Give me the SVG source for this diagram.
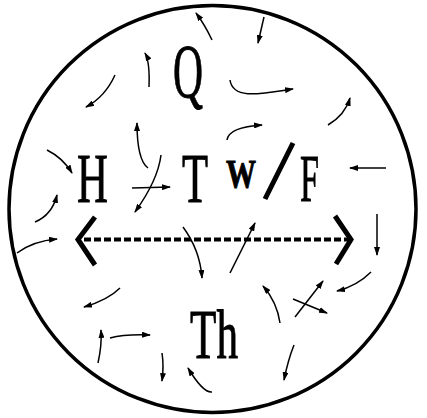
<svg xmlns="http://www.w3.org/2000/svg" width="427" height="418" viewBox="0 0 427 418">
<style>
.lbl{font-family:"Liberation Serif","Times New Roman",serif;fill:#000;stroke:#000;stroke-width:0.9}
.arr{fill:none;stroke:#000;stroke-width:1.5;marker-end:url(#ah)}
.thick{fill:none;stroke:#000;stroke-width:5}
</style>
<defs>
<marker id="ah" markerUnits="userSpaceOnUse" markerWidth="9" markerHeight="6" refX="8" refY="3" orient="auto">
<path d="M0,0 L9,3 L0,6 z" fill="#000"/>
</marker>
</defs>
<rect width="427" height="418" fill="#fff"/>
<g id="boundary">
<circle cx="212.5" cy="209" r="203.5" fill="none" stroke="#000" stroke-width="3.5"/>
</g>
<g id="node-Q"><text class="lbl" x="173" y="97" font-size="76" textLength="30" lengthAdjust="spacingAndGlyphs">Q</text></g>
<g id="node-H"><text class="lbl" x="77" y="202" font-size="69" textLength="31" lengthAdjust="spacingAndGlyphs">H</text></g>
<g id="node-T"><text class="lbl" x="182" y="202" font-size="69" textLength="26" lengthAdjust="spacingAndGlyphs">T</text></g>
<g id="node-WF">
<text class="lbl" x="226" y="187" font-size="39" font-weight="bold" stroke-width="0.3" textLength="30" lengthAdjust="spacingAndGlyphs">W</text>
<line class="thick" x1="265" y1="199" x2="293" y2="143"/>
<text class="lbl" x="300" y="201" font-size="68" textLength="19" lengthAdjust="spacingAndGlyphs">F</text>
</g>
<g id="node-Th"><text class="lbl" x="190" y="358" font-size="69" textLength="48" lengthAdjust="spacingAndGlyphs">Th</text></g>
<g id="connectors">
<line x1="84" y1="239.5" x2="349" y2="239.5" stroke="#000" stroke-width="4" stroke-dasharray="7,3"/>
<polyline class="thick" points="95,217 78,239.5 95,265"/>
<polyline class="thick" points="335,216 351,239.5 336,264"/>
<path class="arr" d="M212,40 Q205,25 196,13"/>
<path class="arr" d="M149,87 Q150,62 145,53"/>
<path class="arr" d="M115,75 Q105,97 86,107"/>
<path class="arr" d="M148,168 Q137,160 137,123"/>
<path class="arr" d="M264,17 L258,43"/>
<path class="arr" d="M230,80 C233,100 260,94 293,89"/>
<path class="arr" d="M328,125 Q345,115 350,98"/>
<path class="arr" d="M227,140 Q229,127 262,125"/>
<path class="arr" d="M47,150 Q63,158 72,173"/>
<path class="arr" d="M35,222 Q52,215 57,195"/>
<path class="arr" d="M17,253 Q33,241 57,239"/>
<path class="arr" d="M132,188 L170,187"/>
<path class="arr" d="M161,155 Q158,180 135,212"/>
<path class="arr" d="M183,227 Q200,250 202,278"/>
<path class="arr" d="M230,273 L255,223"/>
<path class="arr" d="M386,168 L350,168"/>
<path class="arr" d="M377,214 L377,255"/>
<path class="arr" d="M371,272 Q357,286 337,291"/>
<path class="arr" d="M295,317 L323,281"/>
<path class="arr" d="M293,299 L327,313"/>
<path class="arr" d="M280,323 Q277,302 263,286"/>
<path class="arr" d="M294,345 Q288,360 284,380"/>
<path class="arr" d="M120,288 Q108,300 84,307"/>
<path class="arr" d="M98,363 Q102,345 101,330"/>
<path class="arr" d="M110,338 Q125,334 150,335"/>
<path class="arr" d="M162,353 Q164,366 162,381"/>
<path class="arr" d="M212,392 Q203,393 188,368"/>
</g>
</svg>
